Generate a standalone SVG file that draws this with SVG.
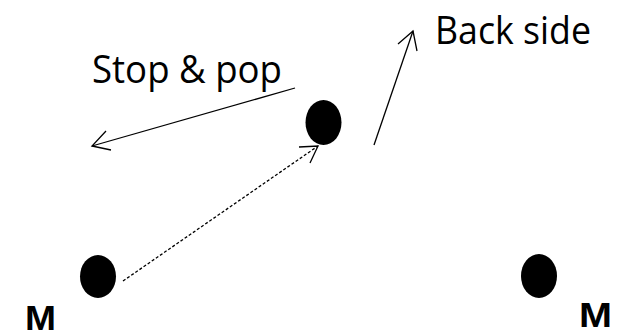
<svg xmlns="http://www.w3.org/2000/svg" width="626" height="330" viewBox="0 0 626 330">
<style>
.lbl{font-family:"Open Sans","Liberation Sans",sans-serif;font-size:39px;fill:#000}
.m{font-family:"Liberation Sans",Arial,sans-serif;font-weight:bold;font-size:35px;fill:#000}
.ln{stroke:#000;stroke-width:1.3;fill:none}
.dash{stroke-dasharray:3,2}
.dot{fill:#000}
</style>
<rect width="626" height="330" fill="#fff"/>
<g id="connectors">
<path class="ln" d="M295,88 L92,146"/>
<path class="ln" d="M106,131 L92,146 L111,150"/>
<path class="ln dash" d="M123,281 L318,146"/>
<path class="ln" d="M299,147 L318,146 L310,163"/>
<path class="ln" d="M374,145 L413,31"/>
<path class="ln" d="M398,44 L413,31 L417,51"/>
</g>
<g id="node-top"><ellipse class="dot" cx="323.5" cy="122.5" rx="18" ry="22.5"/></g>
<g id="node-left"><ellipse class="dot" cx="98" cy="276.5" rx="18" ry="21.5"/></g>
<g id="node-right"><ellipse class="dot" cx="539" cy="276" rx="18" ry="22"/></g>
<g id="label-stop"><text class="lbl" x="92" y="83" textLength="190" lengthAdjust="spacingAndGlyphs">Stop &amp; pop</text></g>
<g id="label-back"><text class="lbl" x="435" y="44" textLength="156" lengthAdjust="spacingAndGlyphs">Back side</text></g>
<g id="label-m-left"><text class="m" x="25" y="330" textLength="31" lengthAdjust="spacingAndGlyphs">M</text></g>
<g id="label-m-right"><text class="m" x="579" y="327" textLength="33" lengthAdjust="spacingAndGlyphs">M</text></g>
</svg>
